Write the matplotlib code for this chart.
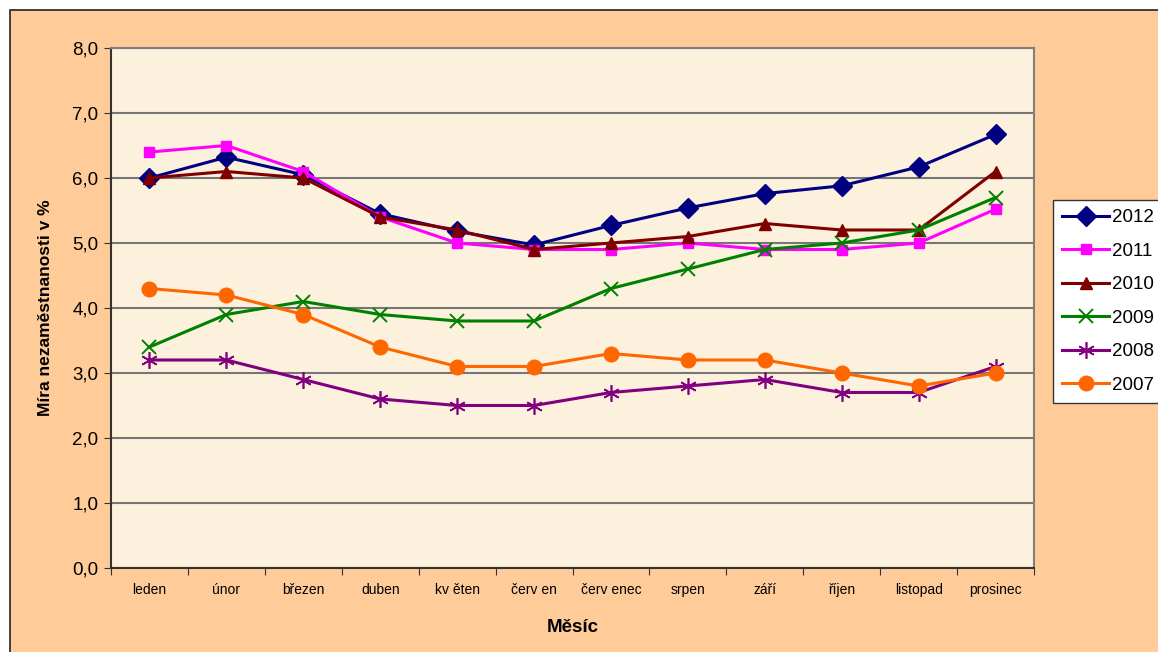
import matplotlib.pyplot as plt
from matplotlib.patches import Rectangle
from matplotlib.ticker import FixedLocator, FuncFormatter

plt.rcParams['font.family'] = ['Liberation Sans', 'DejaVu Sans']

mesice = ['leden', 'únor', 'březen', 'duben', 'kv ěten', 'červ en',
          'červ enec', 'srpen', 'září', 'říjen', 'listopad', 'prosinec']

r2012 = [6.0, 6.32, 6.05, 5.45, 5.18, 4.97, 5.27, 5.54, 5.76, 5.88, 6.17, 6.67]
r2011 = [6.4, 6.5, 6.1, 5.4, 5.0, 4.9, 4.9, 5.0, 4.9, 4.9, 5.0, 5.52]
r2010 = [6.0, 6.1, 6.0, 5.4, 5.2, 4.9, 5.0, 5.1, 5.3, 5.2, 5.2, 6.1]
r2009 = [3.4, 3.9, 4.1, 3.9, 3.8, 3.8, 4.3, 4.6, 4.9, 5.0, 5.2, 5.7]
r2008 = [3.2, 3.2, 2.9, 2.6, 2.5, 2.5, 2.7, 2.8, 2.9, 2.7, 2.7, 3.1]
r2007 = [4.3, 4.2, 3.9, 3.4, 3.1, 3.1, 3.3, 3.2, 3.2, 3.0, 2.8, 3.0]

W, H = 1158, 652
fig = plt.figure(figsize=(W / 100, H / 100), dpi=100, facecolor='white')

# oranzovy ramecek grafu (presahuje za okraj obrazku)
ram = Rectangle((10 / W, -0.1), 1.2, 1 - 10 / H + 0.1,
                transform=fig.transFigure, facecolor='#FFCC99',
                edgecolor='#222222', linewidth=1.2, zorder=-10)
fig.patches.append(ram)

ax = fig.add_axes([111 / W, 1 - 568 / H, (1034 - 111) / W, (568 - 48) / H])
ax.set_facecolor('#FBF1DC')

x = list(range(len(mesice)))
serie = [
    ('2012', r2012, '#000080', 'D', 10.5, None),
    ('2011', r2011, '#FF00FF', 's', 7, None),
    ('2010', r2010, '#800000', '^', 8, None),
    ('2009', r2009, '#008000', 'x', 10, 1.4),
    ('2008', r2008, '#800080', (6, 2, 0), 12, 1.2),
    ('2007', r2007, '#FF6600', 'o', 10.5, None),
]
for lab, y, c, m, ms, mew in serie:
    kw = {}
    if mew is not None:
        kw['markeredgewidth'] = mew
    ax.plot(x, y, color=c, linewidth=2.2, marker=m, markersize=ms,
            markerfacecolor=c, markeredgecolor=c, label=lab, zorder=3, **kw)

ax.set_xlim(-0.5, len(mesice) - 0.5)
ax.set_ylim(0, 8)
ax.set_yticks([i for i in range(9)])
ax.yaxis.set_major_formatter(FuncFormatter(lambda v, p: ('%.1f' % v).replace('.', ',')))
ax.grid(axis='y', color='#767676', linewidth=1.5, zorder=1)

ax.xaxis.set_major_locator(FixedLocator([i - 0.5 for i in range(len(mesice) + 1)]))
ax.xaxis.set_major_formatter(FuncFormatter(lambda v, p: ''))
ax.xaxis.set_minor_locator(FixedLocator(x))
ax.set_xticklabels(mesice, minor=True)
ax.tick_params(axis='x', which='minor', length=0, labelsize=10, pad=11)
ax.tick_params(axis='x', which='major', length=5, color='#333333')
ax.tick_params(axis='y', length=5, labelsize=13.5, pad=4, color='#333333')

for s in ax.spines.values():
    s.set_color('#7F7F7F')
    s.set_linewidth(1.5)
ax.spines['left'].set_color('#333333')
ax.spines['bottom'].set_color('#333333')

ax.set_xlabel('Měsíc', fontsize=13.5, fontweight='bold', labelpad=16)
ax.set_ylabel('Míra nezaměstnanosti v %', fontsize=12.5, fontweight='bold', labelpad=14)

leg = fig.legend(loc='upper left', bbox_to_anchor=(1053 / W, 1 - 200 / H),
                 fontsize=13.5, frameon=True, fancybox=False, framealpha=1,
                 edgecolor='#333333', facecolor='white', handlelength=2.5,
                 handletextpad=0.15, labelspacing=0.87, borderpad=0.5,
                 borderaxespad=0)
leg.get_frame().set_linewidth(1.0)

fig.savefig('out.png', dpi=100, facecolor=fig.get_facecolor())
